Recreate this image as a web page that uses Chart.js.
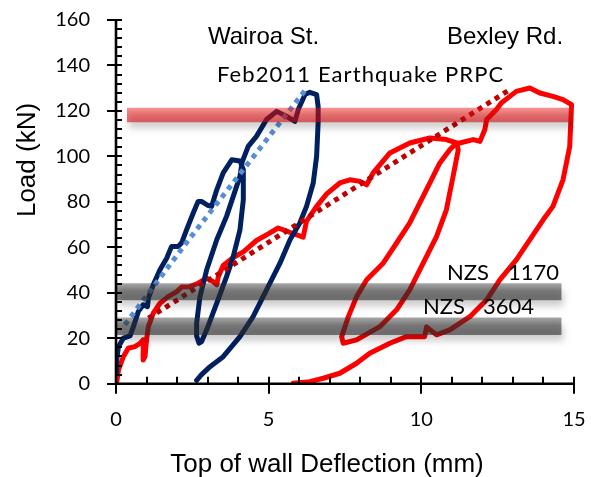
<!DOCTYPE html>
<html><head><meta charset="utf-8">
<script src="https://cdn.jsdelivr.net/npm/chart.js@4.4.0/dist/chart.umd.min.js"></script>
<style>html,body{margin:0;padding:0;background:#fff;}#wrap{width:591px;height:477px;}</style>
</head><body><div id="wrap"><canvas id="c" width="591" height="477"></canvas></div>
<script>
// ---- data ----
const xTicks = [0, 5, 10, 15];
const yTicks = [0, 20, 40, 60, 80, 100, 120, 140, 160];

const wairoaX = [0.0,0.02,0.08,0.24,0.46,0.57,0.73,0.89,1.03,1.06,1.22,1.44,1.66,1.82,2.04,2.15,2.31,2.53,2.69,2.80,3.00,3.13,3.30,3.51,3.79,4.06,4.17,
  4.17,4.06,3.84,3.62,3.30,2.97,2.80,2.72,2.64,2.64,2.75,2.97,3.30,3.62,3.84,4.06,4.13,
  4.33,4.60,4.93,5.26,5.59,5.86,5.97,6.19,6.35,6.57,6.62,
  6.62,6.57,6.46,6.24,6.02,5.70,5.37,4.93,4.49,4.06,3.51,3.08,2.80,2.64];
const wairoaY = [5,10,16.3,20,21,25.1,31.7,34.7,33.9,37.6,43.5,50.1,55.2,60.4,60.4,62,67.7,75.1,80.2,80.2,78.5,78,85.3,92.7,98.5,98,94.1,
  80.9,67.7,55.9,47.1,35.4,23.7,18.5,17.8,21,26.6,38.3,50.1,63.3,73.6,82.4,91.2,97.5,
  104.4,108.8,116.2,119.8,117.6,115.4,120.6,127.2,128.2,127.2,122,
  114.7,100,88.3,78,70.7,63.3,53,41.3,29.5,20.7,11.9,7.5,4,1.5];

const bexleyX = [0.02,0.08,0.24,0.40,0.62,0.79,0.89,0.89,0.95,1.00,1.06,1.22,1.44,1.71,1.99,2.15,2.42,2.69,2.97,3.18,3.30,3.35,3.51,3.84,4.17,4.60,4.93,5.31,5.48,5.75,6.13,6.24,6.57,6.90,7.33,7.66,7.99,8.21,8.42,8.97,9.62,10.28,10.82,11.15,
  11.21,11.04,10.82,10.50,10.06,9.62,9.19,8.64,7.88,7.44,7.39,7.61,7.88,8.21,8.75,9.19,9.62,9.95,10.28,10.60,10.93,11.15,
  11.26,11.70,11.92,12.08,12.14,12.46,12.62,12.90,13.11,13.55,13.88,14.31,14.64,14.92,
  14.86,14.64,14.31,13.99,13.55,13.11,12.57,12.14,11.59,10.93,10.50,10.28,10.17,10.11,9.51,8.97,8.31,7.88,7.33,6.79,6.35,5.80];
const bexleyY = [0.2,6,11.9,15.6,16.3,17.8,19.3,10.4,12,19.3,25.1,31,35.4,38.3,40.5,42.5,42.7,44.2,46.4,44.9,43.5,47.1,52,55.5,58,63,65.5,68.5,67.7,66.3,64.5,71.5,78,83.5,88.3,89.7,89,87.5,92.7,101.5,105.9,108.1,107.4,105.9,
  102.9,91.2,76.5,64.8,53,41.3,32.5,25.1,19.3,17.8,20.7,29.5,38.3,45.7,53,61.9,70.7,79.5,88.3,97,102.9,105.9,
  105.9,107.4,106.6,111.8,116.2,120.6,123.5,126.4,128.6,130.1,127.9,126.4,125,122.8,
  104.4,89.7,78,72.1,63.3,54.5,45.7,36.9,29.5,23.7,21.5,23.7,25,20.7,20.7,17.8,13.4,9,4.6,2.4,0.9,0.2];

const wairoaTrendX = [0.29, 2.42, 6.19];
const wairoaTrendY = [25.9, 64.0, 129.0];
const bexleyTrendX = [1.06, 5.15, 12.90];
const bexleyTrendY = [28.8, 63.5, 129.4];

const prpcBandX = [0.36, 14.96];
const prpcBandY = 118.2;
const codeBandX = [0, 14.59];
const nzs1170Y = 40.5;
const nzs3604Y = 25.3;

const pts = (xs, ys) => xs.map((x, i) => ({x, y: Array.isArray(ys) ? ys[i] : ys}));

// gradient stroke across a horizontal band
function bandGradient(value, width, stops, fallback) {
  return (c) => {
    const chart = c.chart;
    if (!chart.chartArea) return fallback;
    const y = chart.scales.y.getPixelForValue(value);
    const g = chart.ctx.createLinearGradient(0, y - width / 2, 0, y + width / 2);
    stops.forEach(([o, col]) => g.addColorStop(o, col));
    return g;
  };
}

// ---- plugins ----
const shadowPlugin = {
  id: 'shadow',
  beforeDatasetDraw(chart, args) {
    const ds = chart.data.datasets[args.index];
    if (ds.shadow) {
      const ctx = chart.ctx;
      ctx.save();
      ctx.shadowColor = 'rgba(0,0,0,0.32)';
      ctx.shadowBlur = 7;
      ctx.shadowOffsetY = 6;
      ctx.shadowOffsetX = 2;
    }
  },
  afterDatasetDraw(chart, args) {
    const ds = chart.data.datasets[args.index];
    if (ds.shadow) chart.ctx.restore();
  }
};

const decorPlugin = {
  id: 'decor',
  afterDatasetsDraw(chart) {
    const ctx = chart.ctx;
    const xs = chart.scales.x, ys = chart.scales.y;
    const x0 = xs.getPixelForValue(0), x15 = xs.getPixelForValue(15);
    const y0 = ys.getPixelForValue(0), y160 = ys.getPixelForValue(160);
    ctx.save();
    ctx.strokeStyle = '#000';
    ctx.lineCap = 'butt';
    ctx.lineWidth = 2.6;
    ctx.beginPath();
    ctx.moveTo(x0, y160); ctx.lineTo(x0, y0 + 1.3);
    ctx.moveTo(x0 - 1.3, y0); ctx.lineTo(x15, y0);
    ctx.stroke();
    ctx.lineWidth = 2;
    ctx.beginPath();
    for (let v = 0; v <= 160; v += 4) {
      const p = Math.round(ys.getPixelForValue(v));
      if (v % 20 === 0) { ctx.moveTo(x0 - 9, p); ctx.lineTo(x0 + 6, p); }
      else { ctx.moveTo(x0, p); ctx.lineTo(x0 + 6, p); }
    }
    for (let v = 0; v <= 15; v += 1) {
      const p = Math.round(xs.getPixelForValue(v));
      if (v % 5 === 0) { ctx.moveTo(p, y0 - 7); ctx.lineTo(p, y0 + 10); }
      else { ctx.moveTo(p, y0 - 7); ctx.lineTo(p, y0); }
    }
    ctx.stroke();
    ctx.restore();
  },
  afterDraw(chart) {
    const ctx = chart.ctx;
    ctx.save();
    ctx.fillStyle = '#000';
    ctx.textBaseline = 'alphabetic';
    ctx.font = '26px "Liberation Sans", Arial, sans-serif';
    ctx.textAlign = 'center';
    ctx.fillText('Top of wall Deflection (mm)', 327, 472);
    ctx.save();
    ctx.translate(35, 160);
    ctx.rotate(-Math.PI / 2);
    ctx.fillText('Load (kN)', 0, 0);
    ctx.restore();
    ctx.textAlign = 'left';
    ctx.font = '24px "Liberation Sans", Arial, sans-serif';
    ctx.fillText('Wairoa St.', 208, 44);
    ctx.fillText('Bexley Rd.', 447, 44);
    ctx.font = '22px Lato, "Open Sans", sans-serif';
    ctx.letterSpacing = '1.1px';
    ctx.fillText('Feb2011 Earthquake PRPC', 217, 82);
    ctx.letterSpacing = '0px';
    ctx.font = '22px Lato, "Open Sans", sans-serif';
    ctx.fillText('NZS', 447, 280);
    ctx.fillText('1170', 508, 280);
    ctx.fillText('NZS', 423, 314);
    ctx.fillText('3604', 483, 314);
    ctx.restore();
  }
};

const tickFont = {family: 'Lato, "Open Sans", sans-serif', size: 20};
const greyStops = [[0, 'rgba(45,45,45,0.42)'], [0.45, 'rgba(45,45,45,0.6)'], [1, 'rgba(45,45,45,0.6)']];
const redStops = [[0, 'rgba(235,20,20,0.46)'], [0.5, 'rgba(222,10,10,0.56)'], [1, 'rgba(210,10,10,0.6)']];

new Chart(document.getElementById('c'), {
  type: 'scatter',
  data: {
    datasets: [
      {label: 'PRPC', data: pts(prpcBandX, prpcBandY), showLine: true, borderColor: bandGradient(prpcBandY, 14.5, redStops, 'rgba(222,10,10,0.5)'), borderWidth: 14.5, pointRadius: 0, borderCapStyle: 'butt', shadow: true, order: 0},
      {label: 'NZS 1170', data: pts(codeBandX, nzs1170Y), showLine: true, borderColor: bandGradient(nzs1170Y, 17, greyStops, 'rgba(45,45,45,0.57)'), borderWidth: 17, pointRadius: 0, borderCapStyle: 'butt', shadow: true, order: 0},
      {label: 'NZS 3604', data: pts(codeBandX, nzs3604Y), showLine: true, borderColor: bandGradient(nzs3604Y, 17.5, greyStops, 'rgba(45,45,45,0.57)'), borderWidth: 17.5, pointRadius: 0, borderCapStyle: 'butt', shadow: true, order: 0},
      {label: 'Wairoa trend', data: pts(wairoaTrendX, wairoaTrendY), showLine: true, borderColor: '#558ED5', borderWidth: 5, borderDash: [5, 5], pointRadius: 0, borderCapStyle: 'butt', order: 1},
      {label: 'Bexley trend', data: pts(bexleyTrendX, bexleyTrendY), showLine: true, borderColor: '#C00000', borderWidth: 5, borderDash: [5, 5], pointRadius: 0, borderCapStyle: 'butt', order: 1},
      {label: 'Wairoa St.', data: pts(wairoaX, wairoaY), showLine: true, borderColor: '#002060', borderWidth: 5, pointRadius: 0, borderJoinStyle: 'round', borderCapStyle: 'round', order: 2},
      {label: 'Bexley Rd.', data: pts(bexleyX, bexleyY), showLine: true, borderColor: '#FF0000', borderWidth: 5, pointRadius: 0, borderJoinStyle: 'round', borderCapStyle: 'round', order: 2}
    ]
  },
  options: {
    responsive: false,
    devicePixelRatio: 1,
    animation: false,
    layout: {padding: {top: 20, right: 17, left: 0, bottom: 0}},
    plugins: {legend: {display: false}, tooltip: {enabled: false}},
    scales: {
      x: {
        type: 'linear', min: 0, max: 15,
        afterBuildTicks: s => { s.ticks = xTicks.map(v => ({value: v})); },
        afterFit: s => { s.height = 93.3; s.paddingLeft = 0; s.paddingRight = 0; },
        grid: {display: false, drawTicks: false}, border: {display: false},
        ticks: {font: tickFont, color: '#000', padding: 24, maxRotation: 0, autoSkip: false}
      },
      y: {
        type: 'linear', min: 0, max: 160,
        afterBuildTicks: s => { s.ticks = yTicks.map(v => ({value: v})); },
        afterFit: s => { s.width = 116; s.paddingTop = 0; s.paddingBottom = 0; },
        grid: {display: false, drawTicks: false}, border: {display: false},
        ticks: {font: tickFont, color: '#000', padding: 26, autoSkip: false}
      }
    }
  },
  plugins: [shadowPlugin, decorPlugin]
});
</script></body></html>
